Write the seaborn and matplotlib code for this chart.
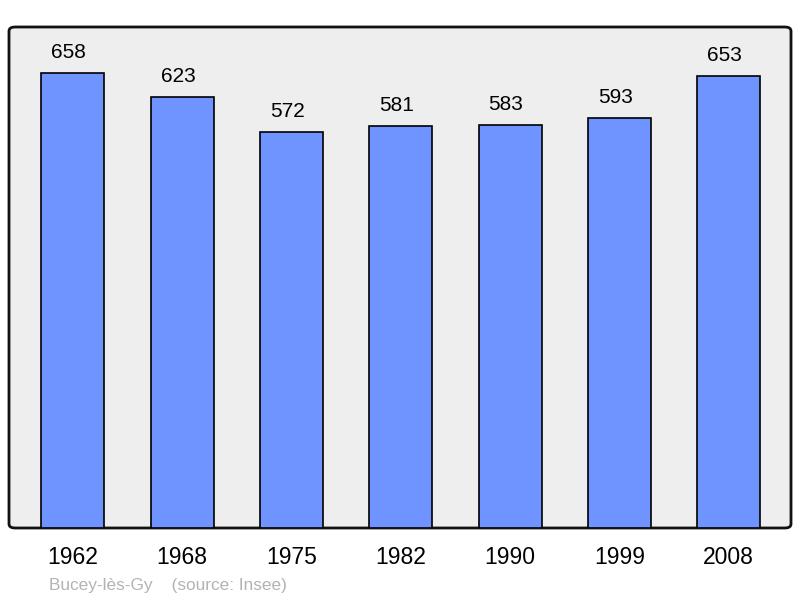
import matplotlib
matplotlib.use('Agg')
import matplotlib.pyplot as plt
import seaborn as sns
import pandas as pd
from matplotlib.patches import FancyBboxPatch

# population by census year
years = ['1962', '1968', '1975', '1982', '1990', '1999', '2008']
population = [658, 623, 572, 581, 583, 593, 653]
commune = 'Bucey-lès-Gy'
source = '(source: Insee)'

sns.set_style('white')
plt.rcParams['font.family'] = ['Liberation Sans', 'DejaVu Sans']

df = pd.DataFrame({'year': years, 'population': population})

fig = plt.figure(figsize=(8, 5.98), dpi=100)
ax = fig.add_axes([9 / 800, 70 / 598, 782 / 800, 501 / 598])
ax.patch.set_visible(False)

# rounded grey frame instead of spines
frame = FancyBboxPatch((0, 0), 1, 1, boxstyle='round,pad=0,rounding_size=0.008',
                       transform=ax.transAxes, facecolor='#eeeeee',
                       edgecolor='#111111', linewidth=2, zorder=0, clip_on=False)
ax.add_patch(frame)
for s in ax.spines.values():
    s.set_visible(False)

sns.barplot(data=df, x='year', y='population', color='#7094ff', saturation=1,
            width=0.576, edgecolor='black', linewidth=1.2, ax=ax, zorder=2)

for i, v in enumerate(population):
    ax.annotate(str(v), (i, v), xytext=(-3, 11), textcoords='offset points',
                ha='center', va='baseline', fontsize=15, color='black')

ax.set_xlim(-0.585, 6.57)
ax.set_ylim(0, 724.5)
ax.set_yticks([])
ax.set_xlabel('')
ax.set_ylabel('')
ax.tick_params(axis='x', length=0, pad=13, labelsize=16.5, labelcolor='black')

fig.text(49 / 800, 8 / 598, commune + '    ' + source, fontsize=12.4,
         color='#b3b3b3', ha='left', va='baseline')

fig.savefig('out.png', dpi=100)
